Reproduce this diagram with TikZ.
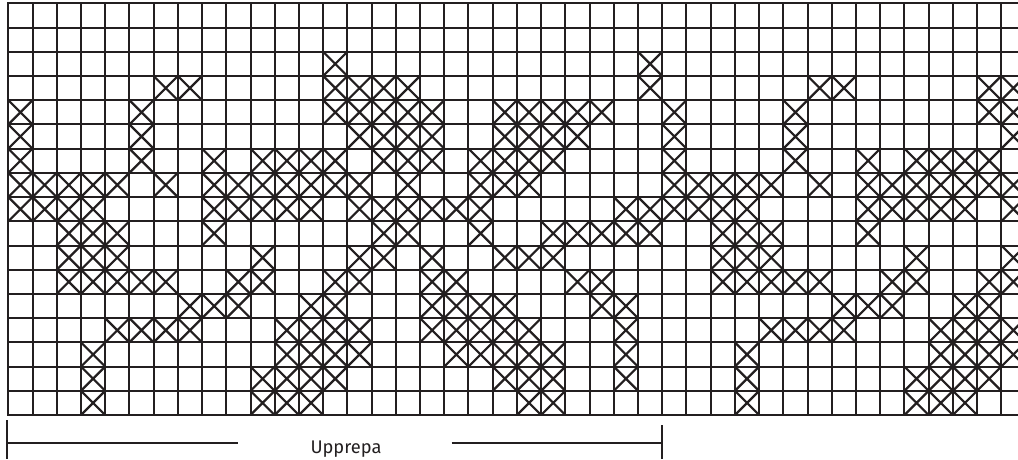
\documentclass[tikz,border=0pt]{standalone}
\usepackage{fontspec}
\setsansfont{Fira Sans}
\definecolor{ink}{RGB}{35,31,32}
\newcommand\gridx{8.3}
\newcommand\gridy{3.3}
\newcommand\cellw{24.22}
\begin{document}
\begin{tikzpicture}[x=1pt,y=-1pt,
  gridline/.style={ink,line width=2pt},
  stitch/.style={ink,line width=2.2pt,line cap=round},
  bracketline/.style={ink,line width=2pt},
  lbl/.style={font=\sffamily\fontsize{18.3}{20}\selectfont,text=ink,inner sep=0pt,anchor=base}]
\useasboundingbox (0,0) rectangle (1018,459);
% grid
\foreach \r in {0,...,17}
  \draw[gridline] (\gridx-1,{\gridy+\r*\cellw}) -- (1018,{\gridy+\r*\cellw});
\foreach \c in {0,...,41}
  \draw[gridline] ({\gridx+\c*\cellw},\gridy) -- ({\gridx+\c*\cellw},{\gridy+17*\cellw});
% stitches
\foreach \r/\cl in {
  2/{13,26},
  3/{6,7,13,14,15,16,26,33,34,40,41},
  4/{0,5,13,14,15,16,17,20,21,22,23,24,27,32,40,41},
  5/{0,5,14,15,16,17,20,21,22,23,27,32,41},
  6/{0,5,8,10,11,12,13,15,16,17,19,20,21,22,27,32,35,37,38,39,40},
  7/{0,1,2,3,4,6,8,9,10,11,12,13,14,16,19,20,21,27,28,29,30,31,33,35,36,37,38,39,40,41},
  8/{0,1,2,3,8,9,10,11,12,14,15,16,17,18,19,25,26,27,28,29,30,35,36,37,38,39,41},
  9/{2,3,4,8,15,16,19,22,23,24,25,26,29,30,31,35},
  10/{2,3,4,10,14,15,17,20,21,22,29,30,31,37,41},
  11/{2,3,4,5,6,9,10,13,14,17,18,23,24,29,30,31,32,33,36,37,40,41},
  12/{7,8,9,12,13,17,18,19,20,24,25,34,35,36,39,40},
  13/{4,5,6,7,11,12,13,14,17,18,19,20,21,25,31,32,33,34,38,39,40,41},
  14/{3,11,12,13,14,18,19,20,21,22,25,30,38,39,40,41},
  15/{3,10,11,12,13,20,21,22,25,30,37,38,39,40},
  16/{3,10,11,12,21,22,30,37,38,39}}
{
  \foreach \c in \cl {
    \draw[stitch] ({\gridx+\c*\cellw},{\gridy+\r*\cellw}) -- ++(\cellw,\cellw)
                  ({\gridx+\c*\cellw},{\gridy+(\r+1)*\cellw}) -- ++(\cellw,-\cellw);
  }
}
% repeat bracket
\node[lbl] (rep) at (346,453.3) {Upprepa};
\coordinate (ltop) at (7.3,420);
\coordinate (lbot) at (7.3,459);
\coordinate (lmid) at (7.3,443.3);
\coordinate (lend) at (238.3,443.3);
\coordinate (rstart) at (451.7,443.3);
\coordinate (rmid) at (662.3,443.3);
\coordinate (rtop) at (662.3,425);
\coordinate (rbot) at (662.3,459);
\draw[bracketline] (ltop) -- (lbot) (lmid) -- (lend);
\draw[bracketline] (rstart) -- (rmid) (rtop) -- (rbot);
\end{tikzpicture}
\end{document}
